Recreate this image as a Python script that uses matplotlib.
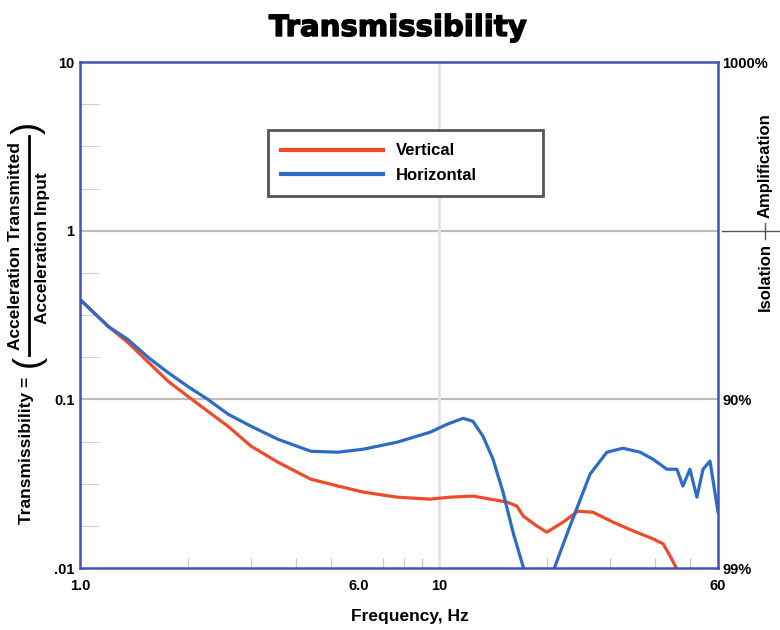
import matplotlib
matplotlib.use("Agg")
import matplotlib.pyplot as plt
import matplotlib.patheffects as pe
from matplotlib.lines import Line2D
from matplotlib.ticker import FixedLocator, NullFormatter, NullLocator

plt.rcParams['font.family'] = ['Liberation Sans', 'DejaVu Sans']

# Werte (Frequenz in Hz, Transmissibilitaet)
vert_freq = [1.0, 1.2, 1.36, 1.55, 1.76, 2.0, 2.27, 2.59, 3.0, 3.56, 4.4, 5.24,
             6.15, 7.65, 9.45, 10.75, 12.45, 13.9, 15.5, 16.5, 17.2, 18.8, 20.0,
             22.2, 24.4, 26.9, 30.6, 34.8, 39.5, 42.2, 44.1, 45.8, 47.0]
vert_t = [0.391, 0.27, 0.217, 0.166, 0.128, 0.104, 0.085, 0.069, 0.0527, 0.0424,
          0.0336, 0.0306, 0.0282, 0.0263, 0.0256, 0.0263, 0.0267, 0.0256, 0.0246,
          0.0233, 0.0203, 0.0177, 0.0163, 0.0187, 0.0217, 0.0214, 0.0187, 0.0166,
          0.0149, 0.0139, 0.0118, 0.0101, 0.0086]

horiz_freq = [1.0, 1.2, 1.36, 1.55, 1.76, 2.0, 2.27, 2.59, 3.0, 3.56, 4.4, 5.24,
              6.15, 7.65, 9.45, 10.54, 11.68, 12.45, 13.28, 14.16, 15.1, 16.1, 17.2,
              18.3, 19.5, 21.1, 23.2, 26.4, 29.4, 32.6, 36.4, 39.5, 43.25, 46.1,
              47.9, 50.1, 52.4, 54.5, 57.0, 60.0]
horiz_t = [0.391, 0.27, 0.2265, 0.177, 0.144, 0.119, 0.1, 0.0815, 0.0692, 0.058,
           0.0492, 0.0486, 0.0506, 0.0557, 0.0638, 0.0711, 0.0772, 0.0741, 0.0604,
           0.0442, 0.0282, 0.0163, 0.0101, 0.0057, 0.0057, 0.0103, 0.0177, 0.036,
           0.0486, 0.0513, 0.0486, 0.0442, 0.0385, 0.0385, 0.0306, 0.0385, 0.0263,
           0.0385, 0.043, 0.0215]

x_ticks = [1, 6, 10, 60]
x_tick_labels = ['1.0', '6.0', '10', '60']
x_minor = [2, 3, 4, 5, 6, 7, 8, 9, 20, 30, 40, 50]
y_ticks = [10, 1, 0.1, 0.01]
y_tick_labels = ['10', '1', '0.1', '.01']
pct_ticks = [10, 0.1, 0.01]
pct_labels = ['1000%', '90%', '99%']

red = '#ee4a2b'
blue = '#2d6cc5'
frame_blue = '#4054b2'
grid_grey = '#bcbcbc'

fig = plt.figure(figsize=(7.8, 6.3), dpi=100)
ax = fig.add_axes([80 / 780, 1 - 568 / 630, 638 / 780, 506 / 630])
ax.set_xscale('log')
ax.set_yscale('log')

ax.axhline(1, color=grid_grey, lw=1.6, zorder=0)
ax.axhline(0.1, color=grid_grey, lw=1.6, zorder=0)
ax.axvline(10, color='#e2e2e2', lw=2.0, zorder=0)

ax.plot(vert_freq, vert_t, color=red, lw=2.3, label='Vertical')
ax.plot(horiz_freq, horiz_t, color=blue, lw=2.3, label='Horizontal')

ax.set_xlim(1, 60)
ax.set_ylim(0.01, 10)

for s in ax.spines.values():
    s.set_color(frame_blue)
    s.set_linewidth(1.8)

ax.xaxis.set_major_locator(FixedLocator(x_ticks))
ax.set_xticklabels(x_tick_labels)
ax.xaxis.set_minor_locator(FixedLocator(x_minor))
ax.xaxis.set_minor_formatter(NullFormatter())
ax.yaxis.set_major_locator(FixedLocator(y_ticks))
ax.set_yticklabels(y_tick_labels)
# kleine Striche im Abstand einer Vierteldekade
ax.yaxis.set_minor_locator(FixedLocator([10 ** (k / 4) for k in range(-8, 4) if k % 4]))
ax.yaxis.set_minor_formatter(NullFormatter())

ax.tick_params(which='major', length=0, labelsize=10.5)
ax.tick_params(axis='x', which='major', pad=8)
ax.tick_params(axis='y', which='major', pad=4)
ax.tick_params(axis='x', which='minor', direction='in', length=7, width=1, color='#c8c8c8')
ax.tick_params(axis='y', which='minor', direction='in', length=14, width=0.8, color='#d0d0d0')
for lbl in ax.get_xticklabels() + ax.get_yticklabels():
    lbl.set_fontweight('bold')

ax2 = ax.twinx()
ax2.set_yscale('log')
ax2.set_ylim(0.01, 10)
ax2.yaxis.set_major_locator(FixedLocator(pct_ticks))
ax2.set_yticklabels(pct_labels)
ax2.yaxis.set_minor_locator(NullLocator())
ax2.tick_params(length=0, labelsize=10.5, pad=3)
for lbl in ax2.get_yticklabels():
    lbl.set_fontweight('bold')
for s in ax2.spines.values():
    s.set_visible(False)

leg = ax.legend(loc='upper left', bbox_to_anchor=(0.2947, 0.8656 - 0.14, 0.431, 0.14),
                mode='expand', borderaxespad=0, fancybox=False, framealpha=1,
                edgecolor='#555555', handlelength=6.1,
                handletextpad=0.8, labelspacing=0.55, borderpad=0.8,
                prop={'weight': 'bold', 'size': 12})
leg.get_frame().set_linewidth(2)
for h in leg.get_lines():
    h.set_linewidth(3)

fig.text(398 / 780, 1 - 28 / 630, 'Transmissibility', ha='center', va='center',
         fontsize=21, fontweight='bold', family='DejaVu Sans',
         path_effects=[pe.withStroke(linewidth=1.0, foreground='black')])
fig.text(410 / 780, 1 - 617 / 630, 'Frequency, Hz', ha='center', va='center',
         fontsize=12.5, fontweight='bold')

# y-Beschriftung als Bruch zusammengesetzt
fig.text(26 / 780, 1 - 450 / 630, 'Transmissibility =', rotation=90, ha='center',
         va='center', fontsize=12.5, fontweight='bold')
fig.text(16 / 780, 1 - 246 / 630, 'Acceleration Transmitted', rotation=90,
         ha='center', va='center', fontsize=12.5, fontweight='bold')
fig.text(43 / 780, 1 - 248 / 630, 'Acceleration Input', rotation=90,
         ha='center', va='center', fontsize=12.5, fontweight='bold')
fig.add_artist(Line2D([29 / 780] * 2, [1 - 136 / 630, 1 - 355 / 630], color='black', lw=2))
fig.text(28 / 780, 1 - 361 / 630, '(', rotation=90, ha='center', va='center',
         fontsize=26)
fig.text(28 / 780, 1 - 128 / 630, ')', rotation=90, ha='center', va='center',
         fontsize=26)

fig.text(765 / 780, 1 - 166 / 630, 'Amplification', rotation=90, ha='center',
         va='center', fontsize=12, fontweight='bold')
fig.text(765 / 780, 1 - 277 / 630, 'Isolation', rotation=90, ha='center',
         va='center', fontsize=12, fontweight='bold')
fig.add_artist(Line2D([722 / 780, 1.0], [1 - 231 / 630] * 2, color='#555555', lw=1))
fig.add_artist(Line2D([765 / 780] * 2, [1 - 223 / 630, 1 - 239 / 630], color='#555555', lw=1))

fig.savefig('out.png', dpi=100)
